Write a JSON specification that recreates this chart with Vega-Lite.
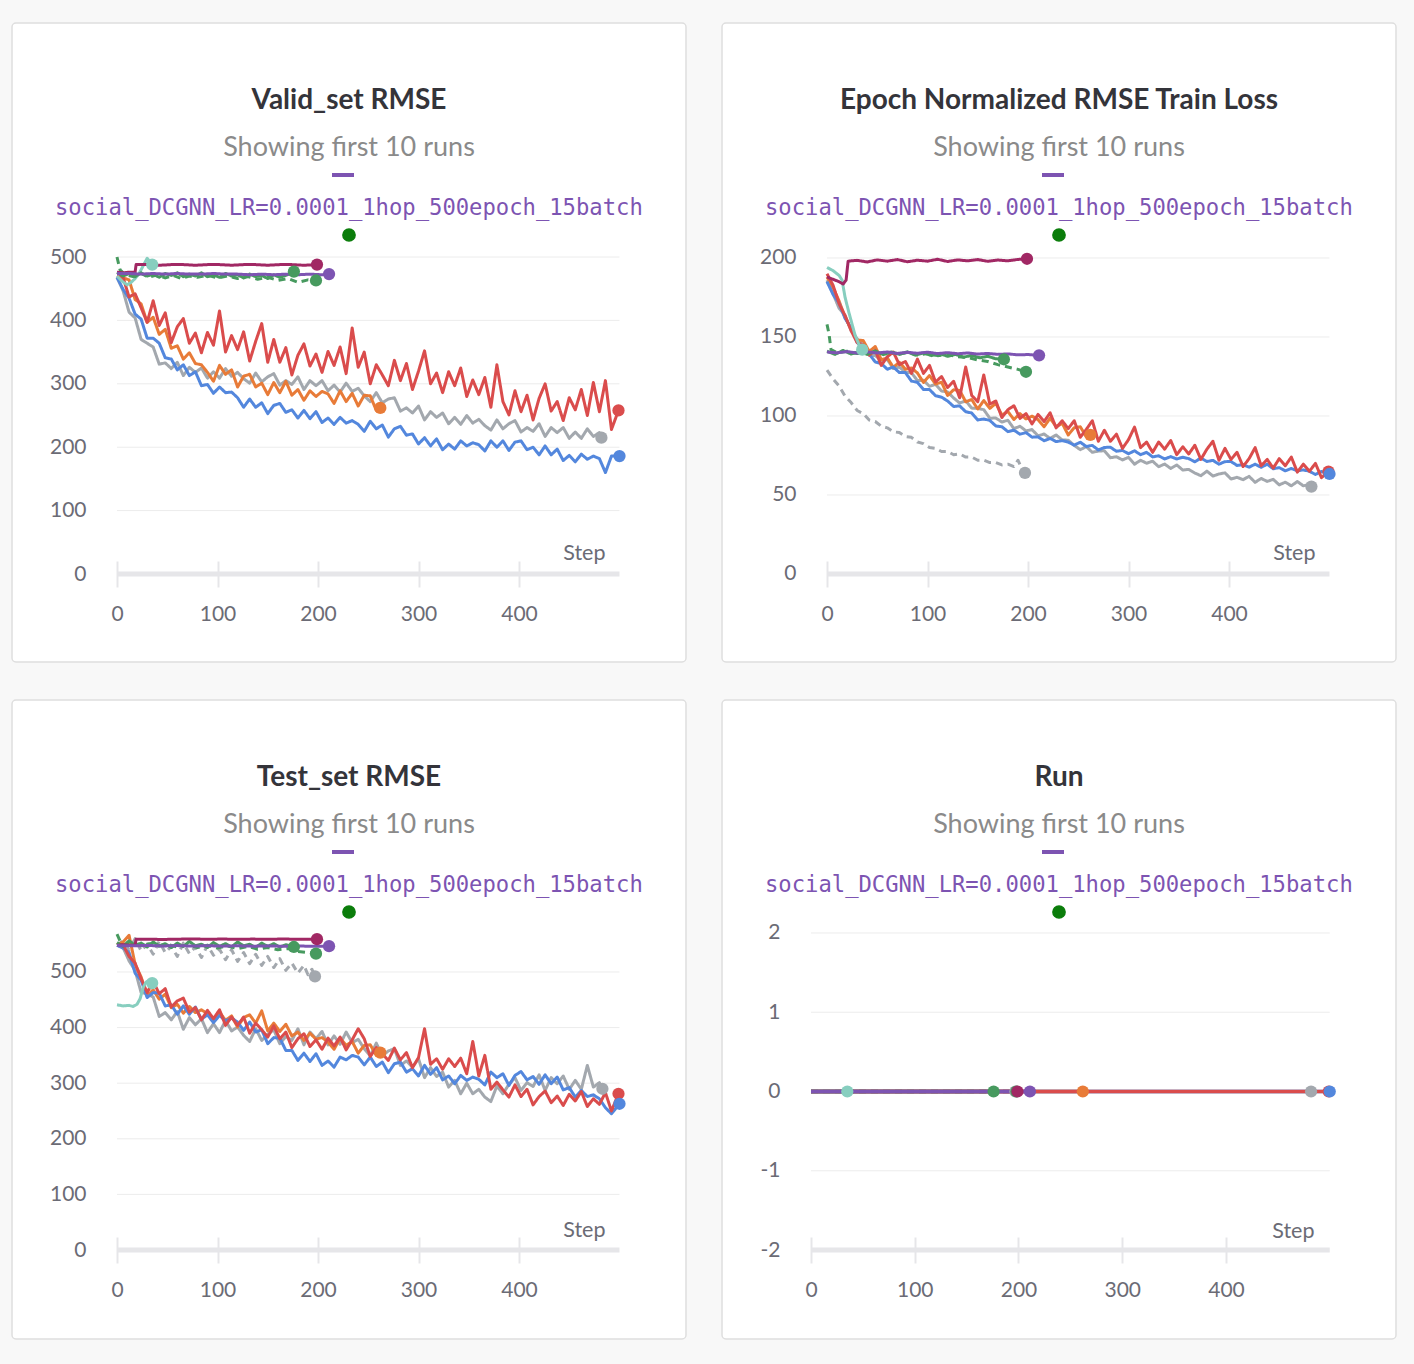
{
  "$schema": "https://vega.github.io/schema/vega-lite/v6.json",
  "background": "#f8f8f8",
  "padding": {"left": 11, "top": 22, "right": 19, "bottom": 26},
  "datasets": {
    "valid": [
      {"r":"nd","s":0,"v":500},{"r":"nd","s":3,"v":480},{"r":"nd","s":8,"v":472},{"r":"nd","s":16,"v":469},{"r":"nd","s":24,"v":474},{"r":"nd","s":32,"v":468},{"r":"nd","s":40,"v":472},{"r":"nd","s":48,"v":467},{"r":"nd","s":56,"v":471},{"r":"nd","s":64,"v":466},{"r":"nd","s":72,"v":470},{"r":"nd","s":80,"v":468},{"r":"nd","s":90,"v":471},{"r":"nd","s":100,"v":467},{"r":"nd","s":110,"v":470},{"r":"nd","s":120,"v":466},{"r":"nd","s":130,"v":469},{"r":"nd","s":140,"v":465},{"r":"nd","s":150,"v":468},{"r":"nd","s":160,"v":463},{"r":"nd","s":170,"v":466},{"r":"nd","s":180,"v":460},{"r":"nd","s":190,"v":464},{"r":"nd","s":198,"v":463},
      {"r":"g","s":0,"v":468},{"r":"g","s":6,"v":447},{"r":"g","s":12,"v":413},{"r":"g","s":18,"v":404},{"r":"g","s":24,"v":370},{"r":"g","s":30,"v":364},{"r":"g","s":36,"v":358},{"r":"g","s":42,"v":331},{"r":"g","s":48,"v":333},{"r":"g","s":54,"v":324},{"r":"g","s":60,"v":334},{"r":"g","s":66,"v":313},{"r":"g","s":72,"v":326},{"r":"g","s":78,"v":318},{"r":"g","s":84,"v":325},{"r":"g","s":90,"v":309},{"r":"g","s":96,"v":319},{"r":"g","s":102,"v":309},{"r":"g","s":108,"v":324},{"r":"g","s":114,"v":312},{"r":"g","s":120,"v":318},{"r":"g","s":126,"v":308},{"r":"g","s":132,"v":301},{"r":"g","s":138,"v":317},{"r":"g","s":144,"v":303},{"r":"g","s":150,"v":311},{"r":"g","s":156,"v":316},{"r":"g","s":162,"v":298},{"r":"g","s":168,"v":305},{"r":"g","s":174,"v":299},{"r":"g","s":180,"v":311},{"r":"g","s":186,"v":291},{"r":"g","s":192,"v":305},{"r":"g","s":198,"v":297},{"r":"g","s":204,"v":305},{"r":"g","s":210,"v":289},{"r":"g","s":216,"v":298},{"r":"g","s":222,"v":287},{"r":"g","s":228,"v":301},{"r":"g","s":234,"v":288},{"r":"g","s":240,"v":293},{"r":"g","s":246,"v":281},{"r":"g","s":252,"v":272},{"r":"g","s":258,"v":286},{"r":"g","s":264,"v":270},{"r":"g","s":270,"v":276},{"r":"g","s":276,"v":278},{"r":"g","s":282,"v":257},{"r":"g","s":288,"v":262},{"r":"g","s":294,"v":254},{"r":"g","s":300,"v":265},{"r":"g","s":306,"v":243},{"r":"g","s":312,"v":256},{"r":"g","s":318,"v":247},{"r":"g","s":324,"v":254},{"r":"g","s":330,"v":237},{"r":"g","s":336,"v":247},{"r":"g","s":342,"v":236},{"r":"g","s":348,"v":250},{"r":"g","s":354,"v":238},{"r":"g","s":360,"v":244},{"r":"g","s":366,"v":234},{"r":"g","s":372,"v":227},{"r":"g","s":378,"v":243},{"r":"g","s":384,"v":229},{"r":"g","s":390,"v":237},{"r":"g","s":396,"v":242},{"r":"g","s":402,"v":224},{"r":"g","s":408,"v":231},{"r":"g","s":414,"v":225},{"r":"g","s":420,"v":237},{"r":"g","s":426,"v":217},{"r":"g","s":432,"v":231},{"r":"g","s":438,"v":223},{"r":"g","s":444,"v":231},{"r":"g","s":450,"v":214},{"r":"g","s":456,"v":224},{"r":"g","s":462,"v":214},{"r":"g","s":468,"v":229},{"r":"g","s":474,"v":217},{"r":"g","s":480,"v":223},{"r":"g","s":482,"v":215},
      {"r":"o","s":0,"v":470},{"r":"o","s":6,"v":467},{"r":"o","s":12,"v":464},{"r":"o","s":18,"v":433},{"r":"o","s":24,"v":426},{"r":"o","s":30,"v":397},{"r":"o","s":36,"v":405},{"r":"o","s":42,"v":378},{"r":"o","s":48,"v":386},{"r":"o","s":54,"v":356},{"r":"o","s":60,"v":360},{"r":"o","s":66,"v":339},{"r":"o","s":72,"v":349},{"r":"o","s":78,"v":332},{"r":"o","s":84,"v":330},{"r":"o","s":90,"v":318},{"r":"o","s":96,"v":304},{"r":"o","s":102,"v":329},{"r":"o","s":108,"v":315},{"r":"o","s":114,"v":322},{"r":"o","s":120,"v":295},{"r":"o","s":126,"v":312},{"r":"o","s":132,"v":315},{"r":"o","s":138,"v":295},{"r":"o","s":144,"v":301},{"r":"o","s":150,"v":283},{"r":"o","s":156,"v":302},{"r":"o","s":162,"v":286},{"r":"o","s":168,"v":304},{"r":"o","s":174,"v":282},{"r":"o","s":180,"v":291},{"r":"o","s":186,"v":274},{"r":"o","s":192,"v":289},{"r":"o","s":198,"v":280},{"r":"o","s":204,"v":288},{"r":"o","s":210,"v":284},{"r":"o","s":216,"v":269},{"r":"o","s":222,"v":289},{"r":"o","s":228,"v":272},{"r":"o","s":234,"v":285},{"r":"o","s":240,"v":265},{"r":"o","s":246,"v":282},{"r":"o","s":252,"v":281},{"r":"o","s":258,"v":258},{"r":"o","s":262,"v":262},
      {"r":"b","s":0,"v":468},{"r":"b","s":6,"v":449},{"r":"b","s":12,"v":435},{"r":"b","s":18,"v":410},{"r":"b","s":24,"v":402},{"r":"b","s":30,"v":372},{"r":"b","s":36,"v":372},{"r":"b","s":42,"v":364},{"r":"b","s":48,"v":341},{"r":"b","s":54,"v":339},{"r":"b","s":60,"v":322},{"r":"b","s":66,"v":330},{"r":"b","s":72,"v":313},{"r":"b","s":78,"v":319},{"r":"b","s":84,"v":297},{"r":"b","s":90,"v":299},{"r":"b","s":96,"v":285},{"r":"b","s":102,"v":295},{"r":"b","s":108,"v":286},{"r":"b","s":114,"v":287},{"r":"b","s":120,"v":278},{"r":"b","s":126,"v":263},{"r":"b","s":132,"v":276},{"r":"b","s":138,"v":263},{"r":"b","s":144,"v":270},{"r":"b","s":150,"v":253},{"r":"b","s":156,"v":266},{"r":"b","s":162,"v":269},{"r":"b","s":168,"v":255},{"r":"b","s":174,"v":259},{"r":"b","s":180,"v":246},{"r":"b","s":186,"v":258},{"r":"b","s":192,"v":245},{"r":"b","s":198,"v":256},{"r":"b","s":204,"v":239},{"r":"b","s":210,"v":246},{"r":"b","s":216,"v":236},{"r":"b","s":222,"v":247},{"r":"b","s":228,"v":238},{"r":"b","s":234,"v":242},{"r":"b","s":240,"v":236},{"r":"b","s":246,"v":225},{"r":"b","s":252,"v":241},{"r":"b","s":258,"v":229},{"r":"b","s":264,"v":235},{"r":"b","s":270,"v":216},{"r":"b","s":276,"v":229},{"r":"b","s":282,"v":233},{"r":"b","s":288,"v":219},{"r":"b","s":294,"v":221},{"r":"b","s":300,"v":205},{"r":"b","s":306,"v":215},{"r":"b","s":312,"v":202},{"r":"b","s":318,"v":213},{"r":"b","s":324,"v":196},{"r":"b","s":330,"v":205},{"r":"b","s":336,"v":197},{"r":"b","s":342,"v":210},{"r":"b","s":348,"v":202},{"r":"b","s":354,"v":207},{"r":"b","s":360,"v":204},{"r":"b","s":366,"v":194},{"r":"b","s":372,"v":210},{"r":"b","s":378,"v":200},{"r":"b","s":384,"v":210},{"r":"b","s":390,"v":195},{"r":"b","s":396,"v":208},{"r":"b","s":402,"v":210},{"r":"b","s":408,"v":196},{"r":"b","s":414,"v":200},{"r":"b","s":420,"v":188},{"r":"b","s":426,"v":202},{"r":"b","s":432,"v":188},{"r":"b","s":438,"v":197},{"r":"b","s":444,"v":179},{"r":"b","s":450,"v":187},{"r":"b","s":456,"v":177},{"r":"b","s":462,"v":189},{"r":"b","s":468,"v":181},{"r":"b","s":474,"v":186},{"r":"b","s":480,"v":182},{"r":"b","s":486,"v":160},{"r":"b","s":492,"v":186},{"r":"b","s":500,"v":186},
      {"r":"r","s":0,"v":470},{"r":"r","s":6,"v":468},{"r":"r","s":12,"v":437},{"r":"r","s":18,"v":442},{"r":"r","s":24,"v":420},{"r":"r","s":30,"v":397},{"r":"r","s":36,"v":431},{"r":"r","s":42,"v":392},{"r":"r","s":48,"v":412},{"r":"r","s":54,"v":365},{"r":"r","s":60,"v":390},{"r":"r","s":66,"v":403},{"r":"r","s":72,"v":364},{"r":"r","s":78,"v":380},{"r":"r","s":84,"v":349},{"r":"r","s":90,"v":381},{"r":"r","s":96,"v":361},{"r":"r","s":102,"v":415},{"r":"r","s":108,"v":350},{"r":"r","s":114,"v":376},{"r":"r","s":120,"v":354},{"r":"r","s":126,"v":382},{"r":"r","s":132,"v":336},{"r":"r","s":138,"v":367},{"r":"r","s":144,"v":395},{"r":"r","s":150,"v":334},{"r":"r","s":156,"v":370},{"r":"r","s":162,"v":334},{"r":"r","s":168,"v":357},{"r":"r","s":174,"v":314},{"r":"r","s":180,"v":345},{"r":"r","s":186,"v":363},{"r":"r","s":192,"v":328},{"r":"r","s":198,"v":347},{"r":"r","s":204,"v":318},{"r":"r","s":210,"v":351},{"r":"r","s":216,"v":329},{"r":"r","s":222,"v":358},{"r":"r","s":228,"v":316},{"r":"r","s":234,"v":388},{"r":"r","s":240,"v":326},{"r":"r","s":246,"v":350},{"r":"r","s":252,"v":300},{"r":"r","s":258,"v":330},{"r":"r","s":264,"v":314},{"r":"r","s":270,"v":297},{"r":"r","s":276,"v":337},{"r":"r","s":282,"v":305},{"r":"r","s":288,"v":332},{"r":"r","s":294,"v":291},{"r":"r","s":300,"v":320},{"r":"r","s":306,"v":352},{"r":"r","s":312,"v":300},{"r":"r","s":318,"v":317},{"r":"r","s":324,"v":286},{"r":"r","s":330,"v":319},{"r":"r","s":336,"v":297},{"r":"r","s":342,"v":325},{"r":"r","s":348,"v":280},{"r":"r","s":354,"v":306},{"r":"r","s":360,"v":283},{"r":"r","s":366,"v":310},{"r":"r","s":372,"v":263},{"r":"r","s":378,"v":330},{"r":"r","s":384,"v":272},{"r":"r","s":390,"v":251},{"r":"r","s":396,"v":289},{"r":"r","s":402,"v":256},{"r":"r","s":408,"v":282},{"r":"r","s":414,"v":243},{"r":"r","s":420,"v":277},{"r":"r","s":426,"v":300},{"r":"r","s":432,"v":257},{"r":"r","s":438,"v":272},{"r":"r","s":444,"v":242},{"r":"r","s":450,"v":278},{"r":"r","s":456,"v":259},{"r":"r","s":462,"v":291},{"r":"r","s":468,"v":250},{"r":"r","s":474,"v":302},{"r":"r","s":480,"v":256},{"r":"r","s":486,"v":305},{"r":"r","s":492,"v":228},{"r":"r","s":499,"v":258},
      {"r":"t","s":0,"v":470},{"r":"t","s":5,"v":462},{"r":"t","s":10,"v":456},{"r":"t","s":14,"v":460},{"r":"t","s":18,"v":466},{"r":"t","s":22,"v":474},{"r":"t","s":26,"v":486},{"r":"t","s":30,"v":498},{"r":"t","s":32,"v":494},{"r":"t","s":35,"v":488},
      {"r":"n","s":0,"v":476},{"r":"n","s":6,"v":470},{"r":"n","s":12,"v":474},{"r":"n","s":18,"v":469},{"r":"n","s":24,"v":475},{"r":"n","s":30,"v":470},{"r":"n","s":36,"v":473},{"r":"n","s":42,"v":468},{"r":"n","s":48,"v":474},{"r":"n","s":54,"v":471},{"r":"n","s":60,"v":475},{"r":"n","s":66,"v":469},{"r":"n","s":72,"v":473},{"r":"n","s":78,"v":470},{"r":"n","s":84,"v":475},{"r":"n","s":90,"v":469},{"r":"n","s":96,"v":472},{"r":"n","s":102,"v":468},{"r":"n","s":108,"v":474},{"r":"n","s":114,"v":470},{"r":"n","s":120,"v":472},{"r":"n","s":126,"v":467},{"r":"n","s":132,"v":473},{"r":"n","s":138,"v":469},{"r":"n","s":144,"v":471},{"r":"n","s":150,"v":466},{"r":"n","s":156,"v":472},{"r":"n","s":162,"v":468},{"r":"n","s":168,"v":471},{"r":"n","s":176,"v":477},
      {"r":"m","s":0,"v":476},{"r":"m","s":6,"v":475},{"r":"m","s":12,"v":476},{"r":"m","s":18,"v":476},{"r":"m","s":19,"v":488},{"r":"m","s":30,"v":488},{"r":"m","s":42,"v":487},{"r":"m","s":54,"v":488},{"r":"m","s":66,"v":488},{"r":"m","s":78,"v":487},{"r":"m","s":90,"v":488},{"r":"m","s":102,"v":488},{"r":"m","s":114,"v":487},{"r":"m","s":126,"v":488},{"r":"m","s":138,"v":488},{"r":"m","s":150,"v":487},{"r":"m","s":162,"v":488},{"r":"m","s":174,"v":488},{"r":"m","s":186,"v":487},{"r":"m","s":199,"v":488},
      {"r":"p","s":0,"v":474},{"r":"p","s":12,"v":474},{"r":"p","s":24,"v":473},{"r":"p","s":36,"v":474},{"r":"p","s":48,"v":473},{"r":"p","s":60,"v":474},{"r":"p","s":72,"v":473},{"r":"p","s":84,"v":473},{"r":"p","s":96,"v":474},{"r":"p","s":108,"v":473},{"r":"p","s":120,"v":473},{"r":"p","s":132,"v":472},{"r":"p","s":144,"v":473},{"r":"p","s":156,"v":472},{"r":"p","s":168,"v":473},{"r":"p","s":180,"v":472},{"r":"p","s":192,"v":473},{"r":"p","s":204,"v":472},{"r":"p","s":211,"v":473}
    ],
    "train": [
      {"r":"gd","s":0,"v":129},{"r":"gd","s":6,"v":123.5},{"r":"gd","s":12,"v":119},{"r":"gd","s":18,"v":112.5},{"r":"gd","s":24,"v":108.5},{"r":"gd","s":30,"v":103.5},{"r":"gd","s":36,"v":101.5},{"r":"gd","s":42,"v":97.5},{"r":"gd","s":48,"v":96.5},{"r":"gd","s":54,"v":93.5},{"r":"gd","s":60,"v":92.5},{"r":"gd","s":66,"v":90},{"r":"gd","s":72,"v":89.5},{"r":"gd","s":78,"v":87},{"r":"gd","s":84,"v":86.5},{"r":"gd","s":90,"v":83.5},{"r":"gd","s":96,"v":82.5},{"r":"gd","s":102,"v":80},{"r":"gd","s":108,"v":79.5},{"r":"gd","s":114,"v":77.5},{"r":"gd","s":120,"v":77.5},{"r":"gd","s":126,"v":75.5},{"r":"gd","s":132,"v":76},{"r":"gd","s":138,"v":74},{"r":"gd","s":144,"v":74},{"r":"gd","s":150,"v":72},{"r":"gd","s":156,"v":72},{"r":"gd","s":162,"v":70.5},{"r":"gd","s":168,"v":70.5},{"r":"gd","s":174,"v":69},{"r":"gd","s":180,"v":69.5},{"r":"gd","s":186,"v":68},{"r":"gd","s":190,"v":72},{"r":"gd","s":194,"v":66.5},{"r":"gd","s":197,"v":64},
      {"r":"nd","s":0,"v":158},{"r":"nd","s":2,"v":152},{"r":"nd","s":4,"v":142},{"r":"nd","s":10,"v":140},{"r":"nd","s":20,"v":141},{"r":"nd","s":30,"v":139.5},{"r":"nd","s":40,"v":140.8},{"r":"nd","s":50,"v":139.2},{"r":"nd","s":60,"v":140.4},{"r":"nd","s":70,"v":139},{"r":"nd","s":80,"v":140.2},{"r":"nd","s":90,"v":138.6},{"r":"nd","s":100,"v":139.6},{"r":"nd","s":110,"v":138.2},{"r":"nd","s":120,"v":139},{"r":"nd","s":130,"v":137.5},{"r":"nd","s":140,"v":137},{"r":"nd","s":150,"v":135.5},{"r":"nd","s":160,"v":134.5},{"r":"nd","s":170,"v":132.5},{"r":"nd","s":180,"v":131},{"r":"nd","s":190,"v":129.5},{"r":"nd","s":198,"v":128},
      {"r":"g","s":0,"v":186},{"r":"g","s":6,"v":177.4},{"r":"g","s":12,"v":168.2},{"r":"g","s":18,"v":163.6},{"r":"g","s":24,"v":154},{"r":"g","s":30,"v":148.8},{"r":"g","s":36,"v":145},{"r":"g","s":42,"v":138.6},{"r":"g","s":48,"v":138.2},{"r":"g","s":54,"v":135.2},{"r":"g","s":60,"v":135.8},{"r":"g","s":66,"v":130},{"r":"g","s":72,"v":131},{"r":"g","s":78,"v":127.6},{"r":"g","s":84,"v":127.4},{"r":"g","s":90,"v":122.4},{"r":"g","s":96,"v":122.6},{"r":"g","s":102,"v":118.8},{"r":"g","s":108,"v":120},{"r":"g","s":114,"v":115.8},{"r":"g","s":120,"v":115.2},{"r":"g","s":126,"v":111.4},{"r":"g","s":132,"v":108.2},{"r":"g","s":138,"v":109.6},{"r":"g","s":144,"v":105},{"r":"g","s":150,"v":104.8},{"r":"g","s":156,"v":104},{"r":"g","s":162,"v":98.6},{"r":"g","s":168,"v":98.7},{"r":"g","s":174,"v":96.2},{"r":"g","s":180,"v":97.3},{"r":"g","s":186,"v":92},{"r":"g","s":192,"v":93.5},{"r":"g","s":198,"v":90.6},{"r":"g","s":204,"v":91.4},{"r":"g","s":210,"v":87.4},{"r":"g","s":216,"v":88.6},{"r":"g","s":222,"v":85.8},{"r":"g","s":228,"v":88},{"r":"g","s":234,"v":84.8},{"r":"g","s":240,"v":84.7},{"r":"g","s":246,"v":81.4},{"r":"g","s":252,"v":78.7},{"r":"g","s":258,"v":80.6},{"r":"g","s":264,"v":77},{"r":"g","s":270,"v":77.8},{"r":"g","s":276,"v":78},{"r":"g","s":282,"v":73.6},{"r":"g","s":288,"v":74.2},{"r":"g","s":294,"v":72.2},{"r":"g","s":300,"v":73.8},{"r":"g","s":306,"v":69.5},{"r":"g","s":312,"v":72},{"r":"g","s":318,"v":70.1},{"r":"g","s":324,"v":71.4},{"r":"g","s":330,"v":67.9},{"r":"g","s":336,"v":69.6},{"r":"g","s":342,"v":66.8},{"r":"g","s":348,"v":69},{"r":"g","s":354,"v":65.8},{"r":"g","s":360,"v":66.2},{"r":"g","s":366,"v":63.9},{"r":"g","s":372,"v":62.2},{"r":"g","s":378,"v":65.1},{"r":"g","s":384,"v":62},{"r":"g","s":390,"v":63.3},{"r":"g","s":396,"v":64},{"r":"g","s":402,"v":60.1},{"r":"g","s":408,"v":61.2},{"r":"g","s":414,"v":59.7},{"r":"g","s":420,"v":61.8},{"r":"g","s":426,"v":58},{"r":"g","s":432,"v":60.5},{"r":"g","s":438,"v":58.6},{"r":"g","s":444,"v":59.9},{"r":"g","s":450,"v":56.4},{"r":"g","s":456,"v":58.1},{"r":"g","s":462,"v":55.8},{"r":"g","s":468,"v":58.5},{"r":"g","s":474,"v":55.8},{"r":"g","s":480,"v":56.7},{"r":"g","s":482,"v":55.3},
      {"r":"o","s":0,"v":188},{"r":"o","s":6,"v":181.4},{"r":"o","s":12,"v":172.8},{"r":"o","s":18,"v":162.5},{"r":"o","s":24,"v":155.1},{"r":"o","s":30,"v":148},{"r":"o","s":36,"v":147.8},{"r":"o","s":42,"v":140.8},{"r":"o","s":48,"v":144},{"r":"o","s":54,"v":135.6},{"r":"o","s":60,"v":136.8},{"r":"o","s":66,"v":130.8},{"r":"o","s":72,"v":134},{"r":"o","s":78,"v":129.6},{"r":"o","s":84,"v":130.4},{"r":"o","s":90,"v":127.2},{"r":"o","s":96,"v":121.2},{"r":"o","s":102,"v":125.6},{"r":"o","s":108,"v":120.2},{"r":"o","s":114,"v":121.4},{"r":"o","s":120,"v":113},{"r":"o","s":126,"v":116.6},{"r":"o","s":132,"v":116.2},{"r":"o","s":138,"v":109},{"r":"o","s":144,"v":110.4},{"r":"o","s":150,"v":104.4},{"r":"o","s":156,"v":109.8},{"r":"o","s":162,"v":104.8},{"r":"o","s":168,"v":108},{"r":"o","s":174,"v":100.6},{"r":"o","s":180,"v":102.8},{"r":"o","s":186,"v":97.8},{"r":"o","s":192,"v":101.5},{"r":"o","s":198,"v":98.1},{"r":"o","s":204,"v":99.9},{"r":"o","s":210,"v":97.7},{"r":"o","s":216,"v":93.2},{"r":"o","s":222,"v":98.6},{"r":"o","s":228,"v":93.2},{"r":"o","s":234,"v":95.4},{"r":"o","s":240,"v":88},{"r":"o","s":246,"v":92.6},{"r":"o","s":252,"v":93.2},{"r":"o","s":258,"v":87},{"r":"o","s":262,"v":88},
      {"r":"b","s":0,"v":185},{"r":"b","s":6,"v":177},{"r":"b","s":12,"v":171.4},{"r":"b","s":18,"v":161.7},{"r":"b","s":24,"v":155.9},{"r":"b","s":30,"v":146.5},{"r":"b","s":36,"v":142.6},{"r":"b","s":42,"v":139.2},{"r":"b","s":48,"v":134.2},{"r":"b","s":54,"v":133.2},{"r":"b","s":60,"v":129.6},{"r":"b","s":66,"v":131},{"r":"b","s":72,"v":127.5},{"r":"b","s":78,"v":127.5},{"r":"b","s":84,"v":122.1},{"r":"b","s":90,"v":121.3},{"r":"b","s":96,"v":116.8},{"r":"b","s":102,"v":116.8},{"r":"b","s":108,"v":112.8},{"r":"b","s":114,"v":111.9},{"r":"b","s":120,"v":109.5},{"r":"b","s":126,"v":106},{"r":"b","s":132,"v":106.4},{"r":"b","s":138,"v":102.7},{"r":"b","s":144,"v":101.9},{"r":"b","s":150,"v":97.5},{"r":"b","s":156,"v":98.1},{"r":"b","s":162,"v":97.2},{"r":"b","s":168,"v":93.7},{"r":"b","s":174,"v":93.2},{"r":"b","s":180,"v":90.1},{"r":"b","s":186,"v":91},{"r":"b","s":192,"v":88.5},{"r":"b","s":198,"v":89.5},{"r":"b","s":204,"v":86.6},{"r":"b","s":210,"v":86.8},{"r":"b","s":216,"v":84.3},{"r":"b","s":222,"v":85.8},{"r":"b","s":228,"v":83.8},{"r":"b","s":234,"v":84.4},{"r":"b","s":240,"v":83.5},{"r":"b","s":246,"v":81.5},{"r":"b","s":252,"v":83.4},{"r":"b","s":258,"v":80.7},{"r":"b","s":264,"v":81.4},{"r":"b","s":270,"v":78.5},{"r":"b","s":276,"v":80.1},{"r":"b","s":282,"v":80.2},{"r":"b","s":288,"v":77.7},{"r":"b","s":294,"v":78.2},{"r":"b","s":300,"v":76.1},{"r":"b","s":306,"v":78},{"r":"b","s":312,"v":75.5},{"r":"b","s":318,"v":77},{"r":"b","s":324,"v":74.1},{"r":"b","s":330,"v":74.8},{"r":"b","s":336,"v":72.8},{"r":"b","s":342,"v":74.3},{"r":"b","s":348,"v":72.8},{"r":"b","s":354,"v":73.9},{"r":"b","s":360,"v":73},{"r":"b","s":366,"v":71},{"r":"b","s":372,"v":73.4},{"r":"b","s":378,"v":71.2},{"r":"b","s":384,"v":71.9},{"r":"b","s":390,"v":69.5},{"r":"b","s":396,"v":71.1},{"r":"b","s":402,"v":71.2},{"r":"b","s":408,"v":68.7},{"r":"b","s":414,"v":69.2},{"r":"b","s":420,"v":67.6},{"r":"b","s":426,"v":69.5},{"r":"b","s":432,"v":67.5},{"r":"b","s":438,"v":69.5},{"r":"b","s":444,"v":66.6},{"r":"b","s":450,"v":67.3},{"r":"b","s":456,"v":65.3},{"r":"b","s":462,"v":66.8},{"r":"b","s":468,"v":65.3},{"r":"b","s":474,"v":65.9},{"r":"b","s":480,"v":65},{"r":"b","s":486,"v":63},{"r":"b","s":492,"v":64.9},{"r":"b","s":500,"v":63.3},
      {"r":"r","s":0,"v":190},{"r":"r","s":6,"v":182.8},{"r":"r","s":12,"v":171.1},{"r":"r","s":18,"v":163.5},{"r":"r","s":24,"v":154},{"r":"r","s":30,"v":146.4},{"r":"r","s":36,"v":145},{"r":"r","s":42,"v":138.5},{"r":"r","s":48,"v":141.5},{"r":"r","s":54,"v":132},{"r":"r","s":60,"v":137.5},{"r":"r","s":66,"v":140.5},{"r":"r","s":72,"v":132.5},{"r":"r","s":78,"v":134.5},{"r":"r","s":84,"v":127},{"r":"r","s":90,"v":136},{"r":"r","s":96,"v":127},{"r":"r","s":102,"v":132},{"r":"r","s":108,"v":121.5},{"r":"r","s":114,"v":125},{"r":"r","s":120,"v":118},{"r":"r","s":126,"v":122},{"r":"r","s":132,"v":111.5},{"r":"r","s":138,"v":131},{"r":"r","s":144,"v":113},{"r":"r","s":150,"v":109},{"r":"r","s":156,"v":126},{"r":"r","s":162,"v":107.5},{"r":"r","s":168,"v":109.5},{"r":"r","s":174,"v":99},{"r":"r","s":180,"v":104},{"r":"r","s":186,"v":106.5},{"r":"r","s":192,"v":98.5},{"r":"r","s":198,"v":101.5},{"r":"r","s":204,"v":95},{"r":"r","s":210,"v":101},{"r":"r","s":216,"v":96.5},{"r":"r","s":222,"v":102},{"r":"r","s":228,"v":92.5},{"r":"r","s":234,"v":97},{"r":"r","s":240,"v":92},{"r":"r","s":246,"v":97},{"r":"r","s":252,"v":86.5},{"r":"r","s":258,"v":91.5},{"r":"r","s":264,"v":97},{"r":"r","s":270,"v":84},{"r":"r","s":276,"v":91},{"r":"r","s":282,"v":84},{"r":"r","s":288,"v":88.5},{"r":"r","s":294,"v":79.5},{"r":"r","s":300,"v":85},{"r":"r","s":306,"v":93},{"r":"r","s":312,"v":80},{"r":"r","s":318,"v":83.5},{"r":"r","s":324,"v":77},{"r":"r","s":330,"v":83.5},{"r":"r","s":336,"v":79},{"r":"r","s":342,"v":84.5},{"r":"r","s":348,"v":75.5},{"r":"r","s":354,"v":80.5},{"r":"r","s":360,"v":76},{"r":"r","s":366,"v":81.5},{"r":"r","s":372,"v":72.5},{"r":"r","s":378,"v":79},{"r":"r","s":384,"v":84},{"r":"r","s":390,"v":72},{"r":"r","s":396,"v":79.5},{"r":"r","s":402,"v":72.5},{"r":"r","s":408,"v":77},{"r":"r","s":414,"v":68},{"r":"r","s":420,"v":73},{"r":"r","s":426,"v":80},{"r":"r","s":432,"v":68.5},{"r":"r","s":438,"v":72.5},{"r":"r","s":444,"v":67},{"r":"r","s":450,"v":73},{"r":"r","s":456,"v":68.5},{"r":"r","s":462,"v":74},{"r":"r","s":468,"v":64.5},{"r":"r","s":474,"v":69.5},{"r":"r","s":480,"v":65},{"r":"r","s":486,"v":70},{"r":"r","s":492,"v":61},{"r":"r","s":499,"v":64.8},
      {"r":"t","s":0,"v":194},{"r":"t","s":6,"v":192},{"r":"t","s":12,"v":189},{"r":"t","s":15,"v":186},{"r":"t","s":18,"v":175},{"r":"t","s":22,"v":165},{"r":"t","s":25,"v":158},{"r":"t","s":28,"v":151},{"r":"t","s":32,"v":145},{"r":"t","s":35,"v":142},
      {"r":"n","s":0,"v":141},{"r":"n","s":8,"v":139},{"r":"n","s":16,"v":141.5},{"r":"n","s":24,"v":139.2},{"r":"n","s":32,"v":140.8},{"r":"n","s":40,"v":139},{"r":"n","s":48,"v":141.2},{"r":"n","s":56,"v":138.8},{"r":"n","s":64,"v":140.5},{"r":"n","s":72,"v":139},{"r":"n","s":80,"v":140.6},{"r":"n","s":88,"v":138.5},{"r":"n","s":96,"v":140},{"r":"n","s":104,"v":138.2},{"r":"n","s":112,"v":139.5},{"r":"n","s":120,"v":137.8},{"r":"n","s":128,"v":139},{"r":"n","s":136,"v":137.2},{"r":"n","s":144,"v":138.4},{"r":"n","s":152,"v":136.8},{"r":"n","s":160,"v":137.8},{"r":"n","s":168,"v":136.2},{"r":"n","s":176,"v":135.9},
      {"r":"m","s":0,"v":188},{"r":"m","s":4,"v":187},{"r":"m","s":8,"v":186},{"r":"m","s":12,"v":185},{"r":"m","s":16,"v":183.5},{"r":"m","s":19,"v":186},{"r":"m","s":21,"v":198},{"r":"m","s":30,"v":198.5},{"r":"m","s":40,"v":197.5},{"r":"m","s":50,"v":198.8},{"r":"m","s":60,"v":198},{"r":"m","s":70,"v":199},{"r":"m","s":80,"v":197.6},{"r":"m","s":90,"v":198.6},{"r":"m","s":100,"v":198},{"r":"m","s":110,"v":199.2},{"r":"m","s":120,"v":197.8},{"r":"m","s":130,"v":198.8},{"r":"m","s":140,"v":198.2},{"r":"m","s":150,"v":199},{"r":"m","s":160,"v":197.9},{"r":"m","s":170,"v":198.7},{"r":"m","s":180,"v":198.2},{"r":"m","s":190,"v":199.1},{"r":"m","s":199,"v":199.5},
      {"r":"p","s":0,"v":140.5},{"r":"p","s":10,"v":140},{"r":"p","s":20,"v":140.8},{"r":"p","s":30,"v":139.8},{"r":"p","s":40,"v":140.6},{"r":"p","s":50,"v":139.9},{"r":"p","s":60,"v":140.5},{"r":"p","s":70,"v":139.6},{"r":"p","s":80,"v":140.3},{"r":"p","s":90,"v":139.7},{"r":"p","s":100,"v":140.4},{"r":"p","s":110,"v":139.5},{"r":"p","s":120,"v":140.1},{"r":"p","s":130,"v":139.4},{"r":"p","s":140,"v":139.9},{"r":"p","s":150,"v":139.2},{"r":"p","s":160,"v":139.6},{"r":"p","s":170,"v":139},{"r":"p","s":180,"v":139.3},{"r":"p","s":190,"v":138.7},{"r":"p","s":200,"v":138.9},{"r":"p","s":211,"v":138.4}
    ],
    "test": [
      {"r":"gd","s":0,"v":548},{"r":"gd","s":6,"v":556},{"r":"gd","s":12,"v":540},{"r":"gd","s":18,"v":560},{"r":"gd","s":24,"v":538},{"r":"gd","s":30,"v":550},{"r":"gd","s":36,"v":532},{"r":"gd","s":42,"v":555},{"r":"gd","s":48,"v":535},{"r":"gd","s":54,"v":546},{"r":"gd","s":60,"v":528},{"r":"gd","s":66,"v":552},{"r":"gd","s":72,"v":533},{"r":"gd","s":78,"v":545},{"r":"gd","s":84,"v":526},{"r":"gd","s":90,"v":548},{"r":"gd","s":96,"v":530},{"r":"gd","s":102,"v":541},{"r":"gd","s":108,"v":522},{"r":"gd","s":114,"v":540},{"r":"gd","s":120,"v":519},{"r":"gd","s":126,"v":535},{"r":"gd","s":132,"v":515},{"r":"gd","s":138,"v":532},{"r":"gd","s":144,"v":512},{"r":"gd","s":150,"v":528},{"r":"gd","s":156,"v":508},{"r":"gd","s":162,"v":524},{"r":"gd","s":168,"v":503},{"r":"gd","s":174,"v":516},{"r":"gd","s":180,"v":498},{"r":"gd","s":186,"v":512},{"r":"gd","s":190,"v":495},{"r":"gd","s":194,"v":505},{"r":"gd","s":197,"v":492},
      {"r":"nd","s":0,"v":568},{"r":"nd","s":3,"v":556},{"r":"nd","s":8,"v":549},{"r":"nd","s":16,"v":552},{"r":"nd","s":24,"v":547},{"r":"nd","s":32,"v":551},{"r":"nd","s":40,"v":546},{"r":"nd","s":50,"v":550},{"r":"nd","s":60,"v":545},{"r":"nd","s":70,"v":549},{"r":"nd","s":80,"v":544},{"r":"nd","s":90,"v":548},{"r":"nd","s":100,"v":543},{"r":"nd","s":110,"v":547},{"r":"nd","s":120,"v":542},{"r":"nd","s":130,"v":546},{"r":"nd","s":140,"v":541},{"r":"nd","s":150,"v":544},{"r":"nd","s":160,"v":540},{"r":"nd","s":170,"v":542},{"r":"nd","s":180,"v":537},{"r":"nd","s":190,"v":535},{"r":"nd","s":198,"v":533},
      {"r":"g","s":0,"v":548},{"r":"g","s":6,"v":544},{"r":"g","s":12,"v":520},{"r":"g","s":18,"v":503},{"r":"g","s":24,"v":463},{"r":"g","s":30,"v":461},{"r":"g","s":36,"v":455},{"r":"g","s":42,"v":420},{"r":"g","s":48,"v":427},{"r":"g","s":54,"v":414},{"r":"g","s":60,"v":429},{"r":"g","s":66,"v":397},{"r":"g","s":72,"v":418},{"r":"g","s":78,"v":405},{"r":"g","s":84,"v":416},{"r":"g","s":90,"v":391},{"r":"g","s":96,"v":407},{"r":"g","s":102,"v":391},{"r":"g","s":108,"v":413},{"r":"g","s":114,"v":394},{"r":"g","s":120,"v":401},{"r":"g","s":126,"v":386},{"r":"g","s":132,"v":375},{"r":"g","s":138,"v":398},{"r":"g","s":144,"v":377},{"r":"g","s":150,"v":388},{"r":"g","s":156,"v":396},{"r":"g","s":162,"v":371},{"r":"g","s":168,"v":384},{"r":"g","s":174,"v":377},{"r":"g","s":180,"v":398},{"r":"g","s":186,"v":369},{"r":"g","s":192,"v":392},{"r":"g","s":198,"v":380},{"r":"g","s":204,"v":393},{"r":"g","s":210,"v":369},{"r":"g","s":216,"v":385},{"r":"g","s":222,"v":370},{"r":"g","s":228,"v":392},{"r":"g","s":234,"v":373},{"r":"g","s":240,"v":379},{"r":"g","s":246,"v":362},{"r":"g","s":252,"v":349},{"r":"g","s":258,"v":372},{"r":"g","s":264,"v":349},{"r":"g","s":270,"v":358},{"r":"g","s":276,"v":362},{"r":"g","s":282,"v":332},{"r":"g","s":288,"v":340},{"r":"g","s":294,"v":329},{"r":"g","s":300,"v":344},{"r":"g","s":306,"v":310},{"r":"g","s":312,"v":328},{"r":"g","s":318,"v":312},{"r":"g","s":324,"v":320},{"r":"g","s":330,"v":293},{"r":"g","s":336,"v":305},{"r":"g","s":342,"v":281},{"r":"g","s":348,"v":300},{"r":"g","s":354,"v":281},{"r":"g","s":360,"v":289},{"r":"g","s":366,"v":275},{"r":"g","s":372,"v":267},{"r":"g","s":378,"v":295},{"r":"g","s":384,"v":281},{"r":"g","s":390,"v":298},{"r":"g","s":396,"v":310},{"r":"g","s":402,"v":287},{"r":"g","s":408,"v":301},{"r":"g","s":414,"v":294},{"r":"g","s":420,"v":315},{"r":"g","s":426,"v":287},{"r":"g","s":432,"v":310},{"r":"g","s":438,"v":299},{"r":"g","s":444,"v":313},{"r":"g","s":450,"v":289},{"r":"g","s":456,"v":305},{"r":"g","s":462,"v":289},{"r":"g","s":468,"v":332},{"r":"g","s":474,"v":293},{"r":"g","s":480,"v":301},{"r":"g","s":483,"v":290},
      {"r":"o","s":0,"v":549},{"r":"o","s":6,"v":554},{"r":"o","s":12,"v":566},{"r":"o","s":18,"v":514},{"r":"o","s":24,"v":491},{"r":"o","s":30,"v":457},{"r":"o","s":36,"v":468},{"r":"o","s":42,"v":451},{"r":"o","s":48,"v":460},{"r":"o","s":54,"v":436},{"r":"o","s":60,"v":442},{"r":"o","s":66,"v":426},{"r":"o","s":72,"v":438},{"r":"o","s":78,"v":427},{"r":"o","s":84,"v":432},{"r":"o","s":90,"v":425},{"r":"o","s":96,"v":411},{"r":"o","s":102,"v":428},{"r":"o","s":108,"v":413},{"r":"o","s":114,"v":421},{"r":"o","s":120,"v":401},{"r":"o","s":126,"v":418},{"r":"o","s":132,"v":423},{"r":"o","s":138,"v":408},{"r":"o","s":144,"v":430},{"r":"o","s":150,"v":394},{"r":"o","s":156,"v":408},{"r":"o","s":162,"v":393},{"r":"o","s":168,"v":406},{"r":"o","s":174,"v":385},{"r":"o","s":180,"v":392},{"r":"o","s":186,"v":377},{"r":"o","s":192,"v":390},{"r":"o","s":198,"v":379},{"r":"o","s":204,"v":382},{"r":"o","s":210,"v":374},{"r":"o","s":216,"v":361},{"r":"o","s":222,"v":381},{"r":"o","s":228,"v":368},{"r":"o","s":234,"v":375},{"r":"o","s":240,"v":354},{"r":"o","s":246,"v":368},{"r":"o","s":252,"v":369},{"r":"o","s":258,"v":350},{"r":"o","s":262,"v":355},
      {"r":"b","s":0,"v":548},{"r":"b","s":6,"v":543},{"r":"b","s":12,"v":535},{"r":"b","s":18,"v":498},{"r":"b","s":24,"v":485},{"r":"b","s":30,"v":454},{"r":"b","s":36,"v":463},{"r":"b","s":42,"v":462},{"r":"b","s":48,"v":439},{"r":"b","s":54,"v":441},{"r":"b","s":60,"v":424},{"r":"b","s":66,"v":439},{"r":"b","s":72,"v":424},{"r":"b","s":78,"v":437},{"r":"b","s":84,"v":415},{"r":"b","s":90,"v":423},{"r":"b","s":96,"v":409},{"r":"b","s":102,"v":422},{"r":"b","s":108,"v":412},{"r":"b","s":114,"v":417},{"r":"b","s":120,"v":410},{"r":"b","s":126,"v":395},{"r":"b","s":132,"v":410},{"r":"b","s":138,"v":392},{"r":"b","s":144,"v":396},{"r":"b","s":150,"v":371},{"r":"b","s":156,"v":382},{"r":"b","s":162,"v":381},{"r":"b","s":168,"v":359},{"r":"b","s":174,"v":359},{"r":"b","s":180,"v":341},{"r":"b","s":186,"v":354},{"r":"b","s":192,"v":339},{"r":"b","s":198,"v":353},{"r":"b","s":204,"v":332},{"r":"b","s":210,"v":340},{"r":"b","s":216,"v":329},{"r":"b","s":222,"v":347},{"r":"b","s":228,"v":342},{"r":"b","s":234,"v":350},{"r":"b","s":240,"v":347},{"r":"b","s":246,"v":333},{"r":"b","s":252,"v":347},{"r":"b","s":258,"v":330},{"r":"b","s":264,"v":338},{"r":"b","s":270,"v":319},{"r":"b","s":276,"v":335},{"r":"b","s":282,"v":338},{"r":"b","s":288,"v":320},{"r":"b","s":294,"v":326},{"r":"b","s":300,"v":313},{"r":"b","s":306,"v":332},{"r":"b","s":312,"v":316},{"r":"b","s":318,"v":328},{"r":"b","s":324,"v":306},{"r":"b","s":330,"v":313},{"r":"b","s":336,"v":299},{"r":"b","s":342,"v":314},{"r":"b","s":348,"v":305},{"r":"b","s":354,"v":311},{"r":"b","s":360,"v":307},{"r":"b","s":366,"v":297},{"r":"b","s":372,"v":320},{"r":"b","s":378,"v":310},{"r":"b","s":384,"v":317},{"r":"b","s":390,"v":296},{"r":"b","s":396,"v":314},{"r":"b","s":402,"v":321},{"r":"b","s":408,"v":306},{"r":"b","s":414,"v":312},{"r":"b","s":420,"v":298},{"r":"b","s":426,"v":315},{"r":"b","s":432,"v":299},{"r":"b","s":438,"v":311},{"r":"b","s":444,"v":288},{"r":"b","s":450,"v":292},{"r":"b","s":456,"v":275},{"r":"b","s":462,"v":287},{"r":"b","s":468,"v":276},{"r":"b","s":474,"v":279},{"r":"b","s":480,"v":272},{"r":"b","s":486,"v":256},{"r":"b","s":492,"v":245},{"r":"b","s":500,"v":263},
      {"r":"r","s":0,"v":549},{"r":"r","s":6,"v":549},{"r":"r","s":12,"v":528},{"r":"r","s":18,"v":516},{"r":"r","s":24,"v":488},{"r":"r","s":30,"v":463},{"r":"r","s":36,"v":483},{"r":"r","s":42,"v":461},{"r":"r","s":48,"v":470},{"r":"r","s":54,"v":437},{"r":"r","s":60,"v":448},{"r":"r","s":66,"v":453},{"r":"r","s":72,"v":428},{"r":"r","s":78,"v":436},{"r":"r","s":84,"v":414},{"r":"r","s":90,"v":431},{"r":"r","s":96,"v":416},{"r":"r","s":102,"v":432},{"r":"r","s":108,"v":404},{"r":"r","s":114,"v":419},{"r":"r","s":120,"v":404},{"r":"r","s":126,"v":419},{"r":"r","s":132,"v":390},{"r":"r","s":138,"v":408},{"r":"r","s":144,"v":396},{"r":"r","s":150,"v":383},{"r":"r","s":156,"v":403},{"r":"r","s":162,"v":380},{"r":"r","s":168,"v":392},{"r":"r","s":174,"v":364},{"r":"r","s":180,"v":380},{"r":"r","s":186,"v":389},{"r":"r","s":192,"v":366},{"r":"r","s":198,"v":378},{"r":"r","s":204,"v":361},{"r":"r","s":210,"v":381},{"r":"r","s":216,"v":367},{"r":"r","s":222,"v":383},{"r":"r","s":228,"v":360},{"r":"r","s":234,"v":378},{"r":"r","s":240,"v":398},{"r":"r","s":246,"v":380},{"r":"r","s":252,"v":348},{"r":"r","s":258,"v":364},{"r":"r","s":264,"v":353},{"r":"r","s":270,"v":341},{"r":"r","s":276,"v":363},{"r":"r","s":282,"v":342},{"r":"r","s":288,"v":355},{"r":"r","s":294,"v":328},{"r":"r","s":300,"v":346},{"r":"r","s":306,"v":398},{"r":"r","s":312,"v":334},{"r":"r","s":318,"v":344},{"r":"r","s":324,"v":325},{"r":"r","s":330,"v":344},{"r":"r","s":336,"v":330},{"r":"r","s":342,"v":345},{"r":"r","s":348,"v":317},{"r":"r","s":354,"v":375},{"r":"r","s":360,"v":313},{"r":"r","s":366,"v":350},{"r":"r","s":372,"v":289},{"r":"r","s":378,"v":302},{"r":"r","s":384,"v":288},{"r":"r","s":390,"v":275},{"r":"r","s":396,"v":297},{"r":"r","s":402,"v":276},{"r":"r","s":408,"v":289},{"r":"r","s":414,"v":261},{"r":"r","s":420,"v":276},{"r":"r","s":426,"v":286},{"r":"r","s":432,"v":265},{"r":"r","s":438,"v":277},{"r":"r","s":444,"v":260},{"r":"r","s":450,"v":280},{"r":"r","s":456,"v":268},{"r":"r","s":462,"v":285},{"r":"r","s":468,"v":258},{"r":"r","s":474,"v":272},{"r":"r","s":480,"v":262},{"r":"r","s":486,"v":283},{"r":"r","s":492,"v":250},{"r":"r","s":499,"v":281},
      {"r":"t","s":0,"v":441},{"r":"t","s":6,"v":439},{"r":"t","s":12,"v":440},{"r":"t","s":16,"v":438},{"r":"t","s":20,"v":442},{"r":"t","s":23,"v":452},{"r":"t","s":26,"v":472},{"r":"t","s":29,"v":482},{"r":"t","s":32,"v":485},{"r":"t","s":35,"v":480},
      {"r":"n","s":0,"v":553},{"r":"n","s":6,"v":546},{"r":"n","s":12,"v":556},{"r":"n","s":18,"v":548},{"r":"n","s":24,"v":552},{"r":"n","s":30,"v":545},{"r":"n","s":36,"v":554},{"r":"n","s":42,"v":547},{"r":"n","s":48,"v":551},{"r":"n","s":54,"v":544},{"r":"n","s":60,"v":552},{"r":"n","s":66,"v":546},{"r":"n","s":72,"v":555},{"r":"n","s":78,"v":547},{"r":"n","s":84,"v":550},{"r":"n","s":90,"v":544},{"r":"n","s":96,"v":553},{"r":"n","s":102,"v":546},{"r":"n","s":108,"v":551},{"r":"n","s":114,"v":545},{"r":"n","s":120,"v":554},{"r":"n","s":126,"v":547},{"r":"n","s":132,"v":550},{"r":"n","s":138,"v":544},{"r":"n","s":144,"v":552},{"r":"n","s":150,"v":546},{"r":"n","s":156,"v":551},{"r":"n","s":162,"v":545},{"r":"n","s":168,"v":549},{"r":"n","s":176,"v":545},
      {"r":"m","s":0,"v":548},{"r":"m","s":6,"v":549},{"r":"m","s":12,"v":548},{"r":"m","s":18,"v":548},{"r":"m","s":19,"v":559},{"r":"m","s":30,"v":559},{"r":"m","s":45,"v":558.5},{"r":"m","s":60,"v":559},{"r":"m","s":75,"v":559.5},{"r":"m","s":90,"v":558.8},{"r":"m","s":105,"v":559.3},{"r":"m","s":120,"v":558.7},{"r":"m","s":135,"v":559.2},{"r":"m","s":150,"v":558.8},{"r":"m","s":165,"v":559.3},{"r":"m","s":180,"v":558.9},{"r":"m","s":199,"v":559},
      {"r":"p","s":0,"v":547.5},{"r":"p","s":15,"v":547},{"r":"p","s":30,"v":547.8},{"r":"p","s":45,"v":546.8},{"r":"p","s":60,"v":547.5},{"r":"p","s":75,"v":546.6},{"r":"p","s":90,"v":547.3},{"r":"p","s":105,"v":546.5},{"r":"p","s":120,"v":547.2},{"r":"p","s":135,"v":546.4},{"r":"p","s":150,"v":547},{"r":"p","s":165,"v":546.3},{"r":"p","s":180,"v":546.8},{"r":"p","s":195,"v":546.2},{"r":"p","s":211,"v":546.5}
    ],
    "run": [
      {"r":"gd","s":0,"v":0},{"r":"gd","s":197,"v":0},
      {"r":"nd","s":0,"v":0},{"r":"nd","s":198,"v":0},
      {"r":"g","s":0,"v":0},{"r":"g","s":482,"v":0},
      {"r":"o","s":0,"v":0},{"r":"o","s":262,"v":0},
      {"r":"b","s":0,"v":0},{"r":"b","s":500,"v":0},
      {"r":"r","s":0,"v":0},{"r":"r","s":499,"v":0},
      {"r":"t","s":0,"v":0},{"r":"t","s":35,"v":0},
      {"r":"n","s":0,"v":0},{"r":"n","s":176,"v":0},
      {"r":"m","s":0,"v":0},{"r":"m","s":199,"v":0},
      {"r":"p","s":0,"v":0},{"r":"p","s":211,"v":0}
    ]
  },
  "columns": 2,
  "spacing": {"row": 36, "column": 34},
  "concat": [
    {
      "width": 674, "height": 639,
      "title": {"text": "Valid_set RMSE", "subtitle": "Showing first 10 runs"},
      "layer": [
        {"data": {"values": [{"t": 100}, {"t": 200}, {"t": 300}, {"t": 400}, {"t": 500}]},
         "mark": {"type": "rule", "color": "#ececec", "strokeWidth": 1},
         "encoding": {"y": {"field": "t", "type": "quantitative"}, "x": {"datum": 0}, "x2": {"datum": 500}}},
        {"data": {"values": [{"t": 0}]},
         "mark": {"type": "rule", "color": "#e6e6e9", "strokeWidth": 5},
         "encoding": {"y": {"field": "t", "type": "quantitative"}, "x": {"datum": 0}, "x2": {"datum": 500}}},
        {"data": {"name": "valid"},
         "mark": {"type": "line", "strokeWidth": 3, "strokeJoin": "round"},
         "encoding": {
           "x": {"field": "s", "type": "quantitative", "scale": {"domain": [-104.48, 566.17], "nice": false, "zero": false},
                 "axis": {"offset": -101, "values": [0, 100, 200, 300, 400], "title": "Step", "titleX": 593, "titleY": -8}},
           "y": {"field": "v", "type": "quantitative", "scale": {"domain": [-138.8, 869.1], "nice": false, "zero": false},
                 "axis": {"offset": -74, "values": [0, 100, 200, 300, 400, 500], "title": null}},
           "color": {"field": "r", "type": "nominal",
                     "scale": {"domain": ["gd", "nd", "g", "o", "b", "r", "t", "n", "m", "p"], "range": ["#a3a8ae", "#479a5f", "#a3a8ae", "#e87b38", "#5387dd", "#da4c4c", "#87cebf", "#479a5f", "#a12864", "#7d54b2"]},
                     "legend": {"values": ["p"], "legendX": 43, "legendY": 139, "title": "social_DCGNN_LR=0.0001_1hop_500epoch_15batch", "labelExpr": "''", "symbolType": "stroke", "symbolSize": 484, "symbolStrokeWidth": 4, "symbolOffset": 275}},
           "strokeDash": {"field": "r", "type": "nominal",
                          "scale": {"domain": ["gd", "nd", "g", "o", "b", "r", "t", "n", "m", "p"], "range": [[7, 5], [7, 5], [1, 0], [1, 0], [1, 0], [1, 0], [1, 0], [1, 0], [1, 0], [1, 0]]},
                          "legend": null}
         }},
        {"data": {"name": "valid"},
         "transform": [{"joinaggregate": [{"op": "max", "field": "s", "as": "ms"}], "groupby": ["r"]}, {"filter": "datum.s === datum.ms"}],
         "mark": {"type": "point", "filled": true, "opacity": 1, "size": 150},
         "encoding": {
           "x": {"field": "s", "type": "quantitative"},
           "y": {"field": "v", "type": "quantitative"},
           "color": {"field": "r", "type": "nominal", "legend": null},
           "shape": {"field": "r", "type": "nominal", "scale": {"domain": ["n"], "range": ["circle"]},
                     "legend": {"legendX": 330, "legendY": 205, "title": null, "labelExpr": "''", "symbolSize": 150, "symbolFillColor": "#0b7d0b", "symbolStrokeColor": "#0b7d0b", "symbolOpacity": 1}},
           "order": {"field": "s", "type": "quantitative"}
         }}
      ]
    },
    {
      "width": 674, "height": 639,
      "title": {"text": "Epoch Normalized RMSE Train Loss", "subtitle": "Showing first 10 runs"},
      "layer": [
        {"data": {"values": [{"t": 50}, {"t": 100}, {"t": 150}, {"t": 200}]},
         "mark": {"type": "rule", "color": "#ececec", "strokeWidth": 1},
         "encoding": {"y": {"field": "t", "type": "quantitative"}, "x": {"datum": 0}, "x2": {"datum": 500}}},
        {"data": {"values": [{"t": 0}]},
         "mark": {"type": "rule", "color": "#e6e6e9", "strokeWidth": 5},
         "encoding": {"y": {"field": "t", "type": "quantitative"}, "x": {"datum": 0}, "x2": {"datum": 500}}},
        {"data": {"name": "train"},
         "mark": {"type": "line", "strokeWidth": 3, "strokeJoin": "round"},
         "encoding": {
           "x": {"field": "s", "type": "quantitative", "scale": {"domain": [-104.48, 566.17], "nice": false, "zero": false},
                 "axis": {"offset": -101, "values": [0, 100, 200, 300, 400], "title": "Step", "titleX": 593, "titleY": -8}},
           "y": {"field": "v", "type": "quantitative", "scale": {"domain": [-55.7, 348.73], "nice": false, "zero": false},
                 "axis": {"offset": -74, "values": [0, 50, 100, 150, 200], "title": null}},
           "color": {"field": "r", "type": "nominal",
                     "scale": {"domain": ["gd", "nd", "g", "o", "b", "r", "t", "n", "m", "p"], "range": ["#a3a8ae", "#479a5f", "#a3a8ae", "#e87b38", "#5387dd", "#da4c4c", "#87cebf", "#479a5f", "#a12864", "#7d54b2"]},
                     "legend": {"values": ["p"], "legendX": 43, "legendY": 139, "title": "social_DCGNN_LR=0.0001_1hop_500epoch_15batch", "labelExpr": "''", "symbolType": "stroke", "symbolSize": 484, "symbolStrokeWidth": 4, "symbolOffset": 275}},
           "strokeDash": {"field": "r", "type": "nominal",
                          "scale": {"domain": ["gd", "nd", "g", "o", "b", "r", "t", "n", "m", "p"], "range": [[7, 5], [7, 5], [1, 0], [1, 0], [1, 0], [1, 0], [1, 0], [1, 0], [1, 0], [1, 0]]},
                          "legend": null}
         }},
        {"data": {"name": "train"},
         "transform": [{"joinaggregate": [{"op": "max", "field": "s", "as": "ms"}], "groupby": ["r"]}, {"filter": "datum.s === datum.ms"}],
         "mark": {"type": "point", "filled": true, "opacity": 1, "size": 150},
         "encoding": {
           "x": {"field": "s", "type": "quantitative"},
           "y": {"field": "v", "type": "quantitative"},
           "color": {"field": "r", "type": "nominal", "legend": null},
           "shape": {"field": "r", "type": "nominal", "scale": {"domain": ["n"], "range": ["circle"]},
                     "legend": {"legendX": 330, "legendY": 205, "title": null, "labelExpr": "''", "symbolSize": 150, "symbolFillColor": "#0b7d0b", "symbolStrokeColor": "#0b7d0b", "symbolOpacity": 1}},
           "order": {"field": "s", "type": "quantitative"}
         }}
      ]
    },
    {
      "width": 674, "height": 639,
      "title": {"text": "Test_set RMSE", "subtitle": "Showing first 10 runs"},
      "layer": [
        {"data": {"values": [{"t": 100}, {"t": 200}, {"t": 300}, {"t": 400}, {"t": 500}]},
         "mark": {"type": "rule", "color": "#ececec", "strokeWidth": 1},
         "encoding": {"y": {"field": "t", "type": "quantitative"}, "x": {"datum": 0}, "x2": {"datum": 500}}},
        {"data": {"values": [{"t": 0}]},
         "mark": {"type": "rule", "color": "#e6e6e9", "strokeWidth": 5},
         "encoding": {"y": {"field": "t", "type": "quantitative"}, "x": {"datum": 0}, "x2": {"datum": 500}}},
        {"data": {"name": "test"},
         "mark": {"type": "line", "strokeWidth": 3, "strokeJoin": "round"},
         "encoding": {
           "x": {"field": "s", "type": "quantitative", "scale": {"domain": [-104.48, 566.17], "nice": false, "zero": false},
                 "axis": {"offset": -102, "values": [0, 100, 200, 300, 400], "title": "Step", "titleX": 593, "titleY": -7}},
           "y": {"field": "v", "type": "quantitative", "scale": {"domain": [-160.07, 989.2], "nice": false, "zero": false},
                 "axis": {"offset": -74, "values": [0, 100, 200, 300, 400, 500], "title": null}},
           "color": {"field": "r", "type": "nominal",
                     "scale": {"domain": ["gd", "nd", "g", "o", "b", "r", "t", "n", "m", "p"], "range": ["#a3a8ae", "#479a5f", "#a3a8ae", "#e87b38", "#5387dd", "#da4c4c", "#87cebf", "#479a5f", "#a12864", "#7d54b2"]},
                     "legend": {"values": ["p"], "legendX": 43, "legendY": 139, "title": "social_DCGNN_LR=0.0001_1hop_500epoch_15batch", "labelExpr": "''", "symbolType": "stroke", "symbolSize": 484, "symbolStrokeWidth": 4, "symbolOffset": 275}},
           "strokeDash": {"field": "r", "type": "nominal",
                          "scale": {"domain": ["gd", "nd", "g", "o", "b", "r", "t", "n", "m", "p"], "range": [[7, 5], [7, 5], [1, 0], [1, 0], [1, 0], [1, 0], [1, 0], [1, 0], [1, 0], [1, 0]]},
                          "legend": null}
         }},
        {"data": {"name": "test"},
         "transform": [{"joinaggregate": [{"op": "max", "field": "s", "as": "ms"}], "groupby": ["r"]}, {"filter": "datum.s === datum.ms"}],
         "mark": {"type": "point", "filled": true, "opacity": 1, "size": 150},
         "encoding": {
           "x": {"field": "s", "type": "quantitative"},
           "y": {"field": "v", "type": "quantitative"},
           "color": {"field": "r", "type": "nominal", "legend": null},
           "shape": {"field": "r", "type": "nominal", "scale": {"domain": ["n"], "range": ["circle"]},
                     "legend": {"legendX": 330, "legendY": 205, "title": null, "labelExpr": "''", "symbolSize": 150, "symbolFillColor": "#0b7d0b", "symbolStrokeColor": "#0b7d0b", "symbolOpacity": 1}},
           "order": {"field": "s", "type": "quantitative"}
         }}
      ]
    },
    {
      "width": 674, "height": 639,
      "title": {"text": "Run", "subtitle": "Showing first 10 runs"},
      "layer": [
        {"data": {"values": [{"t": -1}, {"t": 0}, {"t": 1}, {"t": 2}]},
         "mark": {"type": "rule", "color": "#ececec", "strokeWidth": 1},
         "encoding": {"y": {"field": "t", "type": "quantitative"}, "x": {"datum": 0}, "x2": {"datum": 500}}},
        {"data": {"values": [{"t": -2}]},
         "mark": {"type": "rule", "color": "#e6e6e9", "strokeWidth": 5},
         "encoding": {"y": {"field": "t", "type": "quantitative"}, "x": {"datum": 0}, "x2": {"datum": 500}}},
        {"data": {"name": "run"},
         "mark": {"type": "line", "strokeWidth": 3.6, "strokeJoin": "round"},
         "encoding": {
           "x": {"field": "s", "type": "quantitative", "scale": {"domain": [-85.78, 563.86], "nice": false, "zero": false},
                 "axis": {"offset": -102, "values": [0, 100, 200, 300, 400], "title": "Step", "titleX": 592, "titleY": -6}},
           "y": {"field": "v", "type": "quantitative", "scale": {"domain": [-3.123, 4.94], "nice": false, "zero": false},
                 "axis": {"offset": -58, "values": [-2, -1, 0, 1, 2], "labelExpr": "'' + datum.value", "title": null}},
           "color": {"field": "r", "type": "nominal",
                     "scale": {"domain": ["gd", "nd", "g", "o", "b", "r", "t", "n", "m", "p"], "range": ["#a3a8ae", "#479a5f", "#a3a8ae", "#e87b38", "#5387dd", "#da4c4c", "#87cebf", "#479a5f", "#a12864", "#7d54b2"]},
                     "legend": {"values": ["p"], "legendX": 43, "legendY": 139, "title": "social_DCGNN_LR=0.0001_1hop_500epoch_15batch", "labelExpr": "''", "symbolType": "stroke", "symbolSize": 484, "symbolStrokeWidth": 4, "symbolOffset": 275}},
           "strokeDash": {"field": "r", "type": "nominal",
                          "scale": {"domain": ["gd", "nd", "g", "o", "b", "r", "t", "n", "m", "p"], "range": [[7, 5], [7, 5], [1, 0], [1, 0], [1, 0], [1, 0], [1, 0], [1, 0], [1, 0], [1, 0]]},
                          "legend": null}
         }},
        {"data": {"name": "run"},
         "transform": [{"joinaggregate": [{"op": "max", "field": "s", "as": "ms"}], "groupby": ["r"]}, {"filter": "datum.s === datum.ms"}],
         "mark": {"type": "point", "filled": true, "opacity": 1, "size": 150},
         "encoding": {
           "x": {"field": "s", "type": "quantitative"},
           "y": {"field": "v", "type": "quantitative"},
           "color": {"field": "r", "type": "nominal", "legend": null},
           "shape": {"field": "r", "type": "nominal", "scale": {"domain": ["n"], "range": ["circle"]},
                     "legend": {"legendX": 330, "legendY": 205, "title": null, "labelExpr": "''", "symbolSize": 150, "symbolFillColor": "#0b7d0b", "symbolStrokeColor": "#0b7d0b", "symbolOpacity": 1}},
           "order": {"field": "s", "type": "quantitative"}
         }}
      ]
    }
  ],
  "resolve": {"scale": {"x": "independent", "y": "independent", "color": "independent", "shape": "independent", "strokeDash": "independent"}},
  "config": {
    "font": "Lato",
    "view": {"stroke": "#dedede", "strokeWidth": 1.5, "fill": "white", "cornerRadius": 4},
    "title": {"font": "Lato", "fontSize": 28, "fontWeight": "bold", "color": "#34343a", "subtitleFont": "Lato", "subtitleFontSize": 27, "subtitleFontWeight": "normal", "subtitleColor": "#8a8a8a", "subtitlePadding": 20.5, "offset": -138, "anchor": "middle", "frame": "group"},
    "axis": {"labelFont": "Lato", "labelFontSize": 21, "labelColor": "#6b6b75", "domain": false, "grid": false, "labelFlush": false, "labelOverlap": false, "titleFont": "Lato", "titleFontSize": 21.5, "titleFontWeight": "normal", "titleColor": "#6b6b75"},
    "axisY": {"ticks": false, "labelPadding": 0},
    "axisX": {"tickSize": 26, "tickWidth": 2, "tickColor": "#e6e6e9", "labelPadding": 16, "titleAlign": "right", "titleBaseline": "middle"},
    "legend": {"orient": "none", "padding": 0, "titleFont": "DejaVu Sans Mono", "titleFontSize": 22.2, "titleFontWeight": "normal", "titleColor": "#7d54b2", "titleLimit": 1000, "titleOrient": "bottom", "titleAnchor": "start", "titlePadding": 13.5}
  }
}
